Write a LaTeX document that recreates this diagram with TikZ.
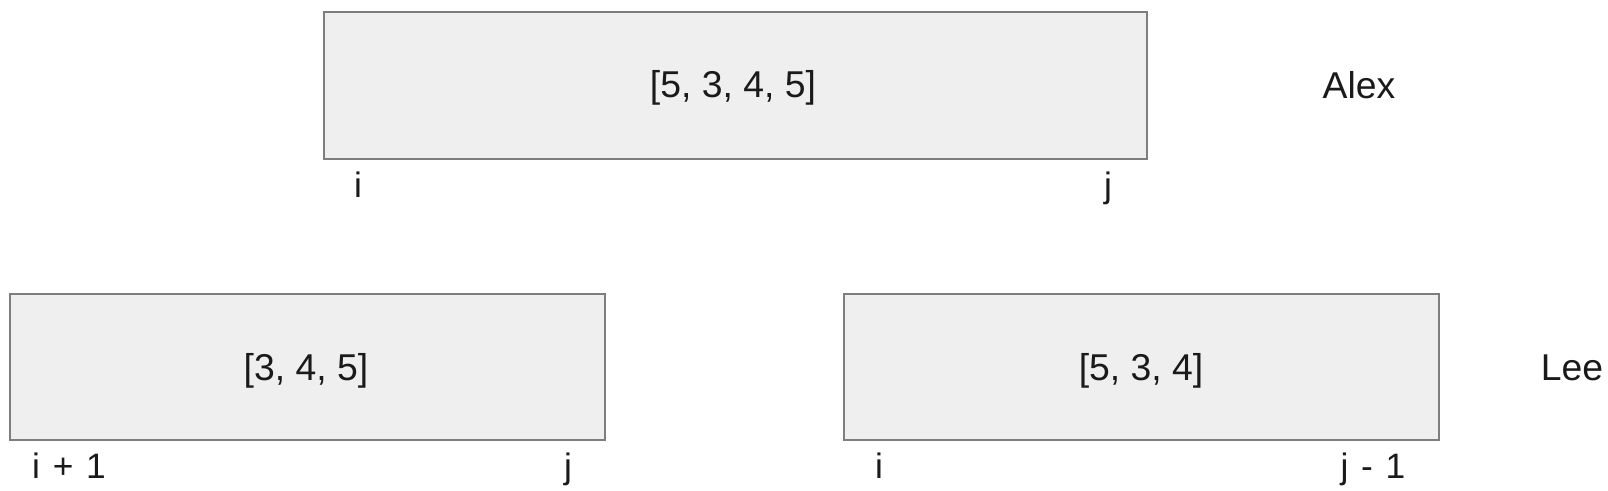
\documentclass[tikz,border=0pt]{standalone}
\usepackage{fontspec}
\setmainfont{Liberation Sans}
\definecolor{boxfill}{HTML}{EFEFEF}
\definecolor{boxline}{HTML}{7E7E7E}
\definecolor{txt}{HTML}{1A1A1A}
\newcommand{\gapsp}{\hspace{0.36em}}
\begin{document}
\begin{tikzpicture}[x=0.75pt,y=-0.75pt,
  arraybox/.style={draw=boxline,fill=boxfill,line width=1.6pt,inner sep=0pt,anchor=north west},
  listtext/.style={anchor=base,inner sep=0pt,text=txt,font=\fontsize{28}{32}\selectfont},
  idxtext/.style={anchor=base,inner sep=0pt,text=txt,font=\fontsize{26.5}{30}\selectfont},
  nametext/.style={anchor=base,inner sep=0pt,text=txt,font=\fontsize{28}{32}\selectfont}]
\useasboundingbox (0,0) rectangle (1608,490);
\node[arraybox,minimum width=823*0.75pt,minimum height=147*0.75pt] (top) at (323,11) {};
\node[arraybox,minimum width=595*0.75pt,minimum height=146*0.75pt] (left) at (9,293) {};
\node[arraybox,minimum width=595*0.75pt,minimum height=146*0.75pt] (right) at (843,293) {};
\node[listtext] (toptxt) at (733,97) {[5, 3, 4, 5]};
\node[listtext] (lefttxt) at (306,380) {[3, 4, 5]};
\node[listtext] (righttxt) at (1141,380) {[5, 3, 4]};
\node[nametext] (alex) at (1359,98) {Alex};
\node[nametext] (lee) at (1572,380) {Lee};
\node[idxtext] (ti) at (358,197) {i};
\node[idxtext] (tj) at (1108,197) {j};
\node[idxtext] (li) at (69,478) {i\gapsp+\gapsp1};
\node[idxtext] (lj) at (568,478) {j};
\node[idxtext] (ri) at (879,478) {i};
\node[idxtext] (rj) at (1373,478) {j\gapsp-\gapsp1};
\end{tikzpicture}
\end{document}
